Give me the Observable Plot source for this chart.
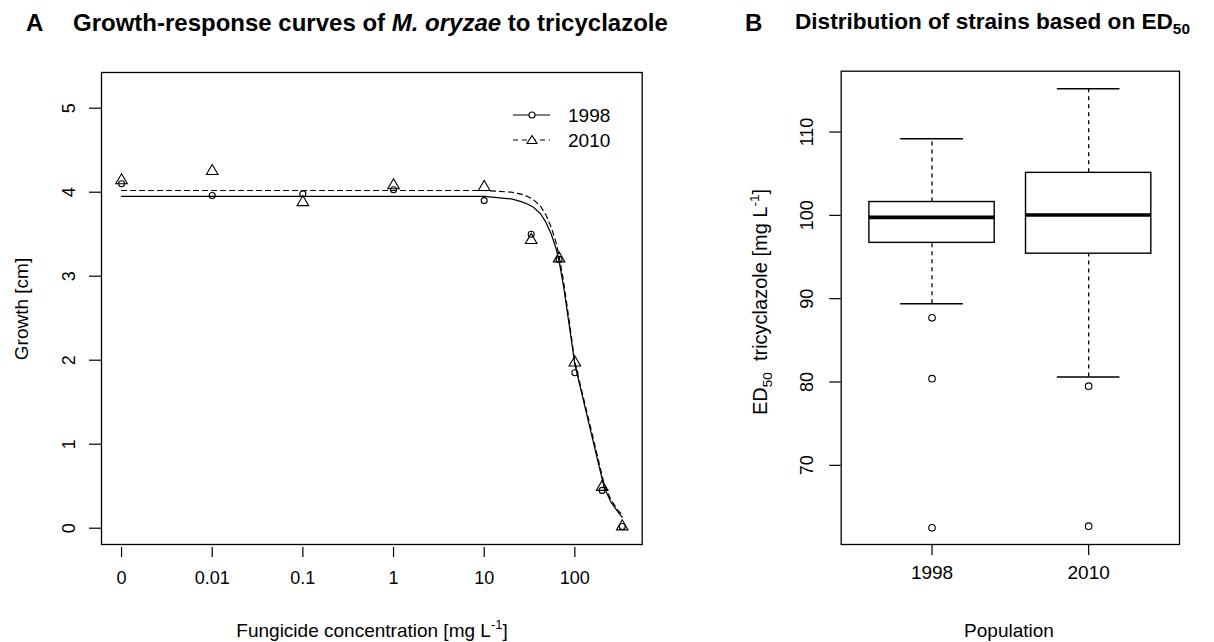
<!DOCTYPE html>
<html><head><meta charset="utf-8">
<script src="https://cdn.jsdelivr.net/npm/d3@7"></script>
<script src="https://cdn.jsdelivr.net/npm/@observablehq/plot@0.6"></script>
<style>
body{margin:0;background:#fff;font-family:Arial,"Liberation Sans",sans-serif;}
#wrap{position:relative;width:1214px;height:642px;overflow:hidden;background:#fff;}
.panel{position:absolute;top:0;}
.abs{position:absolute;white-space:nowrap;color:#000;line-height:1;}
.title{font-weight:bold;font-size:23px;}
.lbl{font-size:19px;}
.ctr{transform:translate(-50%,-50%);}
.rot{transform:translate(-50%,-50%) rotate(-90deg);}
sub,sup{font-size:68%;line-height:0;}
sub{vertical-align:-0.35em;}
sup{vertical-align:0.6em;}
</style></head><body>
<div id="wrap">
  <div id="pA" class="panel" style="left:0px"></div>
  <div id="pB" class="panel" style="left:690px"></div>

  <div class="abs title" style="left:26px;top:11px;font-size:24px">A</div>
  <div class="abs title" style="left:73px;top:11px;font-size:24px">Growth-response curves of <i>M. oryzae</i> to tricyclazole</div>
  <div class="abs title" style="left:745px;top:11px;font-size:24px">B</div>
  <div class="abs title" style="left:795px;top:11px;font-size:22.6px">Distribution of strains based on ED<sub>50</sub></div>

  <div class="abs lbl rot" style="left:21px;top:309px">Growth [cm]</div>
  <div class="abs lbl ctr" style="left:372px;top:630px">Fungicide concentration [mg L<sup>-1</sup>]</div>
  <div class="abs lbl rot" style="left:760px;top:302px;font-size:20px">ED<sub>50</sub>&nbsp;&nbsp;tricyclazole [mg L<sup>-1</sup>]</div>
  <div class="abs lbl ctr" style="left:1009px;top:630px">Population</div>

  <div id="legend" class="abs" style="left:510px;top:102px;">
    <svg width="44" height="50" style="position:absolute;left:0;top:0">
      <line x1="3" x2="40" y1="13" y2="13" stroke="#000" stroke-width="1.2"/>
      <circle cx="22" cy="13" r="3" fill="#fff" stroke="#000" stroke-width="1.1"/>
      <line x1="3" x2="40" y1="38" y2="38" stroke="#000" stroke-width="1.2" stroke-dasharray="5,4"/>
      <path d="M22,33.5 L27,41.5 L17,41.5 Z" fill="#fff" stroke="#000" stroke-width="1.1"/>
    </svg>
    <div class="abs lbl" style="left:58px;top:4px">1998</div>
    <div class="abs lbl" style="left:58px;top:29px">2010</div>
  </div>
</div>
<script>
// ---------- Panel A data ----------
const concentrations = [0, 0.01, 0.1, 1, 10, 33, 67, 100, 200, 333];
const growth1998 = [4.10, 3.96, 3.98, 4.03, 3.90, 3.50, 3.20, 1.85, 0.45, 0.02];
const growth2010 = [4.14, 4.25, 3.88, 4.08, 4.06, 3.43, 3.21, 1.97, 0.49, 0.02];
// fitted curves
const curveConc = [0, 10, 20, 25, 30, 35, 42, 48, 55, 62, 67, 75, 85, 100, 120, 150, 180, 210, 250, 300, 333];
const curve1998 = [3.95, 3.95, 3.92, 3.89, 3.86, 3.82, 3.74, 3.64, 3.50, 3.33, 3.18, 2.88, 2.48, 1.95, 1.59, 1.15, 0.79, 0.49, 0.31, 0.19, 0.13];
const curve2010 = [4.02, 4.02, 4.00, 3.98, 3.95, 3.91, 3.83, 3.73, 3.58, 3.40, 3.24, 2.94, 2.53, 1.98, 1.62, 1.19, 0.83, 0.53, 0.34, 0.21, 0.16];
const xTickValuesA = [0, 0.01, 0.1, 1, 10, 100];
const xTickLabelsA = ["0", "0.01", "0.1", "1", "10", "100"];
const yTicksA = [0, 1, 2, 3, 4, 5];
const zeroPosition = 0.001; // "0" is drawn one decade below 0.01 on the log axis

// ---------- Panel B data ----------
const populations = ["1998", "2010"];
const lowerWhisker = [89.4, 80.6];
const quartile1 = [96.7, 95.4];
const medians = [99.76, 100.05];
const quartile3 = [101.6, 105.1];
const upperWhisker = [109.2, 115.2];
const outliers1998 = [87.7, 80.4, 62.5];
const outliers2010 = [79.5, 62.7];
const yTicksB = [70, 80, 90, 100, 110];

const pos = c => (c === 0 ? zeroPosition : c);
const font = "Arial, 'Liberation Sans', sans-serif";

const pts1998 = concentrations.map((c, i) => ({x: pos(c), y: growth1998[i]}));
const pts2010 = concentrations.map((c, i) => ({x: pos(c), y: growth2010[i]}));
const fitA = curveConc.map((c, i) => ({x: pos(c), y: curve1998[i]}));
const fitB = curveConc.map((c, i) => ({x: pos(c), y: curve2010[i]}));
const xTickPos = xTickValuesA.map(pos);

const plotA = Plot.plot({
  width: 690, height: 642,
  marginLeft: 101, marginRight: 48.3, marginTop: 72, marginBottom: 95,
  x: {type: "log", domain: [0.000601, 553], axis: null},
  y: {domain: [-0.194, 5.425], insetBottom: 3, axis: null},
  style: {fontFamily: font, fontSize: "19px", color: "#000", background: "transparent"},
  marks: [
    Plot.frame({stroke: "#000", strokeWidth: 1.3, insetBottom: 3}),
    Plot.axisX({ticks: xTickPos, label: null, tickSize: 10, tickPadding: 14, strokeWidth: 1.2,
      tickFormat: d => xTickLabelsA[xTickPos.indexOf(d)], fontSize: 18}),
    Plot.axisY({ticks: yTicksA, label: null, tickSize: 12, tickPadding: 15, tickRotate: -90, strokeWidth: 1.2,
      tickFormat: d => String(d), fontSize: 18}),
    Plot.line(fitA, {x: "x", y: "y", stroke: "#000", strokeWidth: 1.2}),
    Plot.line(fitB, {x: "x", y: "y", stroke: "#000", strokeWidth: 1.2, strokeDasharray: "5,4"}),
    Plot.dot(pts1998, {x: "x", y: "y", r: 3, stroke: "#000", strokeWidth: 1.1, fill: "none"}),
    Plot.dot(pts2010, {x: "x", y: "y", r: 4.3, symbol: "triangle", stroke: "#000", strokeWidth: 1.1, fill: "none"})
  ]
});
document.getElementById("pA").appendChild(plotA);

const boxes = populations.map((p, i) => ({
  pos: i + 1, lw: lowerWhisker[i], q1: quartile1[i], med: medians[i], q3: quartile3[i], uw: upperWhisker[i]
}));
const outs = [
  ...outliers1998.map(v => ({pos: 1, v})),
  ...outliers2010.map(v => ({pos: 2, v}))
];

const plotB = Plot.plot({
  width: 524, height: 642,
  marginLeft: 150.7, marginRight: 35, marginTop: 70.7, marginBottom: 98,
  x: {domain: [0.42, 2.58], axis: null},
  y: {domain: [60.5, 117.3], axis: null},
  style: {fontFamily: font, fontSize: "19px", color: "#000", background: "transparent"},
  marks: [
    Plot.frame({stroke: "#000", strokeWidth: 1.3}),
    Plot.axisX({ticks: [1, 2], label: null, tickSize: 11, tickPadding: 10, strokeWidth: 1.2,
      tickFormat: d => populations[d - 1], fontSize: 19}),
    Plot.axisY({ticks: yTicksB, label: null, tickSize: 11.5, tickPadding: 17, tickRotate: -90, strokeWidth: 1.2,
      tickFormat: d => String(d), fontSize: 18}),
    Plot.ruleX(boxes, {x: "pos", y1: "q3", y2: "uw", stroke: "#000", strokeWidth: 1.3, strokeDasharray: "4,4"}),
    Plot.ruleX(boxes, {x: "pos", y1: "lw", y2: "q1", stroke: "#000", strokeWidth: 1.3, strokeDasharray: "4,4"}),
    Plot.ruleY(boxes, {y: "uw", x1: d => d.pos - 0.2, x2: d => d.pos + 0.2, stroke: "#000", strokeWidth: 1.4}),
    Plot.ruleY(boxes, {y: "lw", x1: d => d.pos - 0.2, x2: d => d.pos + 0.2, stroke: "#000", strokeWidth: 1.4}),
    Plot.rect(boxes, {x1: d => d.pos - 0.4, x2: d => d.pos + 0.4, y1: "q1", y2: "q3", fill: "#fff", stroke: "#000", strokeWidth: 1.4}),
    Plot.ruleY(boxes, {y: "med", x1: d => d.pos - 0.4, x2: d => d.pos + 0.4, stroke: "#000", strokeWidth: 3.6}),
    Plot.dot(outs, {x: "pos", y: "v", r: 3.3, stroke: "#000", strokeWidth: 1.1, fill: "none"})
  ]
});
document.getElementById("pB").appendChild(plotB);
</script>
</body></html>
